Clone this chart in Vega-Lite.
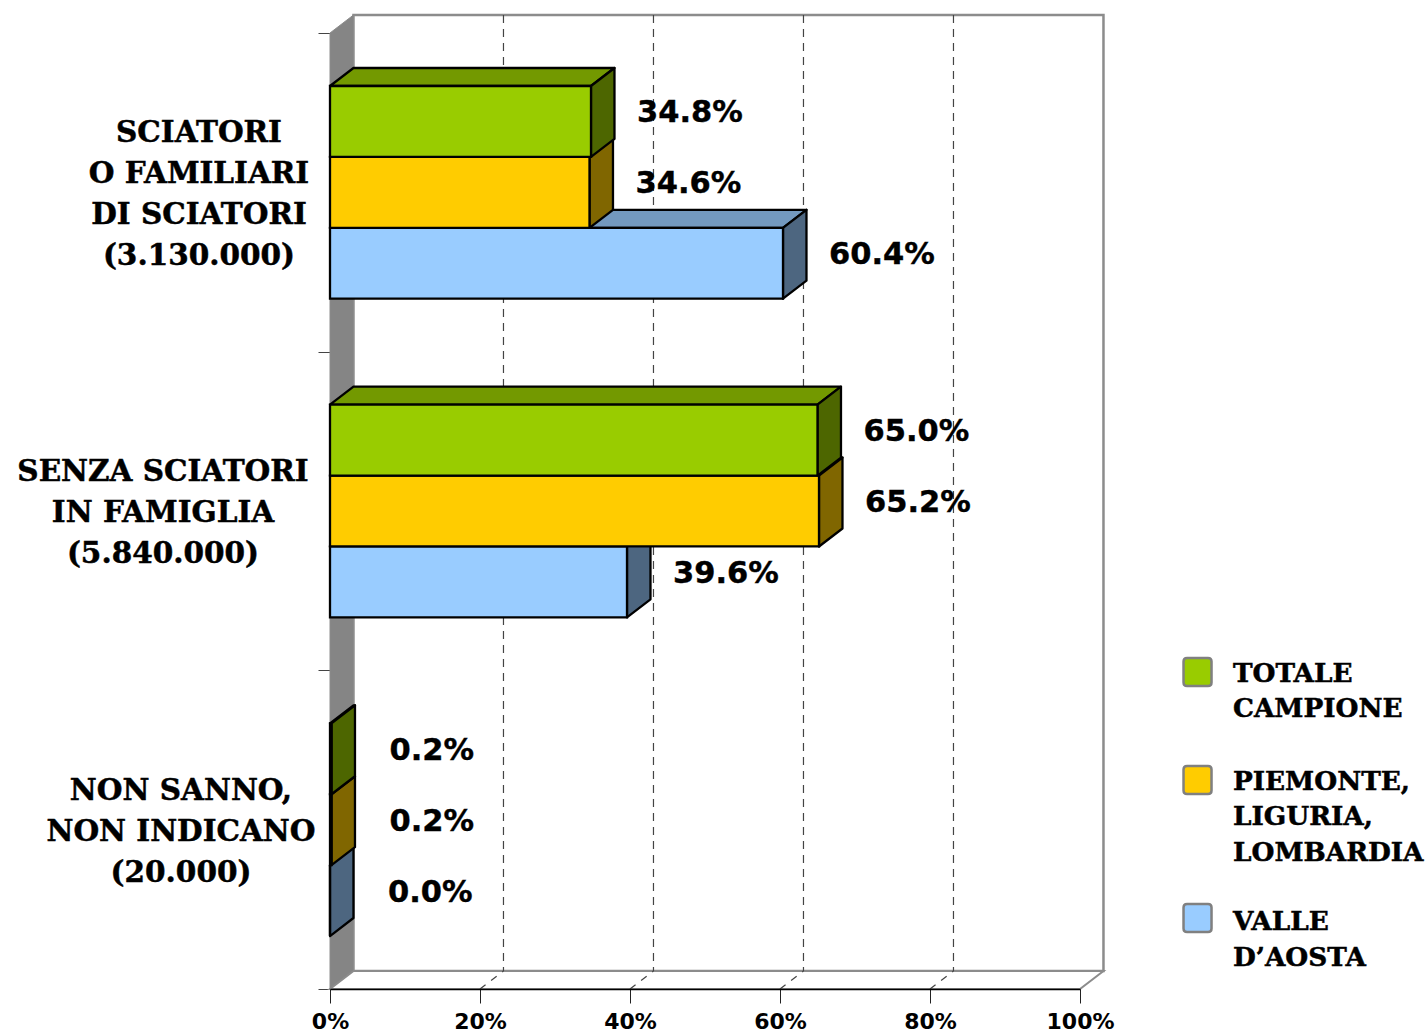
{
"$schema":"https://vega.github.io/schema/vega-lite/v6.json",
"width":750,"height":956,
"autosize":{"type":"none"},
"padding":{"left":330,"top":33,"right":346,"bottom":44},
"background":"white",
"config":{"view":{"stroke":null}},
"data":{"values":[
{"group":"SCIATORI\nO FAMILIARI\nDI SCIATORI\n(3.130.000)","series":"VALLE\nD’AOSTA","value":60.4},
{"group":"SCIATORI\nO FAMILIARI\nDI SCIATORI\n(3.130.000)","series":"PIEMONTE,\nLIGURIA,\nLOMBARDIA","value":34.6},
{"group":"SCIATORI\nO FAMILIARI\nDI SCIATORI\n(3.130.000)","series":"TOTALE\nCAMPIONE","value":34.8},
{"group":"SENZA SCIATORI\nIN FAMIGLIA\n(5.840.000)","series":"VALLE\nD’AOSTA","value":39.6},
{"group":"SENZA SCIATORI\nIN FAMIGLIA\n(5.840.000)","series":"PIEMONTE,\nLIGURIA,\nLOMBARDIA","value":65.2},
{"group":"SENZA SCIATORI\nIN FAMIGLIA\n(5.840.000)","series":"TOTALE\nCAMPIONE","value":65.0},
{"group":"NON SANNO,\nNON INDICANO\n(20.000)","series":"VALLE\nD’AOSTA","value":0.0},
{"group":"NON SANNO,\nNON INDICANO\n(20.000)","series":"PIEMONTE,\nLIGURIA,\nLOMBARDIA","value":0.2},
{"group":"NON SANNO,\nNON INDICANO\n(20.000)","series":"TOTALE\nCAMPIONE","value":0.2}
]},
"transform":[
{"calculate":"test(/^SCIATORI/,datum.group)?0:test(/^SENZA/,datum.group)?1:2","as":"g"},
{"calculate":"test(/^TOTALE/,datum.series)?0:test(/^PIEMONTE/,datum.series)?1:2","as":"s"},
{"calculate":"datum.g+0.1663+datum.s*0.2225","as":"yt"},
{"calculate":"datum.yt+0.2225","as":"yb"},
{"calculate":"datum.g+'-'+datum.s","as":"bar"},
{"calculate":"format(datum.value,'.1f')+'%'","as":"label"}
],
"layer":[
{"data":{"values":[{"k":0}]},
 "mark":{"type":"rect","fill":"white","stroke":"#8c8c8c","strokeWidth":2.5},
 "encoding":{
  "x":{"datum":3.13,"type":"quantitative","scale":{"domain":[0,100]},
   "axis":{"values":[0,20,40,60,80,100],"labelExpr":"datum.value+'%'","title":null,"orient":"bottom","zindex":1,"domainColor":"black","domainWidth":1.5,"tickColor":"#222222","tickWidth":1,"tickSize":14,"labelFont":"DejaVu Sans","labelFontWeight":"bold","labelFontSize":22,"labelColor":"black","labelPadding":8,"labelOverlap":false,"labelFlush":false,"grid":false}},
  "x2":{"datum":103.13},
  "y":{"datum":-0.0565,"type":"quantitative","scale":{"domain":[3,0]},
   "axis":{"values":[0,1,2,3],"labels":false,"title":null,"orient":"left","domain":false,"tickColor":"#444444","tickWidth":1,"tickSize":12,"grid":false}},
  "y2":{"datum":2.9435}}},
{"data":{"values":[{"k":0},{"k":1}]},
 "transform":[{"calculate":"datum.k*3.13","as":"xa"},{"calculate":"datum.k*(-0.0565)","as":"ya"},{"calculate":"3-datum.k*0.0565","as":"yb2"}],
 "mark":{"type":"area","orient":"vertical","fill":"#858585","stroke":"#8c8c8c","strokeWidth":1},
 "encoding":{
  "x":{"field":"xa","type":"quantitative","scale":{"domain":[0,100]}},
  "y":{"field":"ya","type":"quantitative","scale":{"domain":[3,0]}},
  "y2":{"field":"yb2"}}},
{"data":{"values":[{"k":0},{"k":1}]},
 "transform":[{"calculate":"datum.k*3.13","as":"xa"},{"calculate":"100+datum.k*3.13","as":"xb"},{"calculate":"3-datum.k*0.0565","as":"ya"}],
 "mark":{"type":"area","orient":"horizontal","fill":"white","stroke":"#8c8c8c","strokeWidth":2},
 "encoding":{
  "x":{"field":"xa","type":"quantitative","scale":{"domain":[0,100]}},
  "x2":{"field":"xb"},
  "y":{"field":"ya","type":"quantitative","scale":{"domain":[3,0]}}}},
{"data":{"values":[{"t":20},{"t":40},{"t":60},{"t":80}]},
 "transform":[{"calculate":"datum.t+3.13","as":"xg"}],
 "mark":{"type":"rule","stroke":"#444444","strokeWidth":1.2,"strokeDash":[8,6]},
 "encoding":{
  "x":{"field":"xg","type":"quantitative","scale":{"domain":[0,100]}},
  "y":{"datum":-0.0565,"type":"quantitative","scale":{"domain":[3,0]}},
  "y2":{"datum":2.9435}}},
{"data":{"values":[{"t":20},{"t":40},{"t":60},{"t":80}]},
 "transform":[{"calculate":"datum.t+3.13","as":"xg"}],
 "mark":{"type":"rule","stroke":"#444444","strokeWidth":1.2,"strokeDash":[7,7]},
 "encoding":{
  "x":{"field":"t","type":"quantitative","scale":{"domain":[0,100]}},
  "x2":{"field":"xg"},
  "y":{"datum":3,"type":"quantitative","scale":{"domain":[3,0]}},
  "y2":{"datum":2.9435}}},
{"transform":[{"calculate":"[0,1]","as":"k"},{"flatten":["k"]},{"calculate":"datum.value+datum.k*3.13","as":"xa"},{"calculate":"datum.k*3.13","as":"xb"},{"calculate":"datum.yt-datum.k*0.0565","as":"ya"}],
 "mark":{"type":"area","orient":"horizontal","stroke":"black","strokeWidth":2.3,"strokeJoin":"round","fillOpacity":1},
 "encoding":{
  "x":{"field":"xa","type":"quantitative","scale":{"domain":[0,100]}},
  "x2":{"field":"xb"},
  "y":{"field":"ya","type":"quantitative","scale":{"domain":[3,0]}},
  "detail":{"field":"bar"},
  "fill":{"field":"series","type":"nominal","legend":null,"scale":{"domain":["TOTALE\nCAMPIONE","PIEMONTE,\nLIGURIA,\nLOMBARDIA","VALLE\nD’AOSTA"],"range":["#739900","#BF9900","#7399BF"]}}}},
{"transform":[{"calculate":"[0,1]","as":"k"},{"flatten":["k"]},{"calculate":"datum.value+datum.k*3.13","as":"xa"},{"calculate":"datum.yt-datum.k*0.0565","as":"ya"},{"calculate":"datum.yb-datum.k*0.0565","as":"yc"}],
 "mark":{"type":"area","orient":"vertical","stroke":"black","strokeWidth":2.3,"strokeJoin":"round","fillOpacity":1},
 "encoding":{
  "x":{"field":"xa","type":"quantitative","scale":{"domain":[0,100]}},
  "y":{"field":"ya","type":"quantitative","scale":{"domain":[3,0]}},
  "y2":{"field":"yc"},
  "detail":{"field":"bar"},
  "fill":{"field":"series","type":"nominal","legend":null,"scale":{"domain":["TOTALE\nCAMPIONE","PIEMONTE,\nLIGURIA,\nLOMBARDIA","VALLE\nD’AOSTA"],"range":["#4D6600","#806600","#4D6680"]}}}},
{"mark":{"type":"rect","stroke":"black","strokeWidth":2.3,"fillOpacity":1},
 "encoding":{
  "x":{"field":"value","type":"quantitative","scale":{"domain":[0,100]},"stack":null},
  "x2":{"datum":0},
  "y":{"field":"yt","type":"quantitative","scale":{"domain":[3,0]}},
  "y2":{"field":"yb"},
  "fill":{"field":"series","type":"nominal","legend":null,"scale":{"domain":["TOTALE\nCAMPIONE","PIEMONTE,\nLIGURIA,\nLOMBARDIA","VALLE\nD’AOSTA"],"range":["#99CC00","#FFCC00","#99CCFF"]}}}},
{"transform":[{"filter":"datum.value>=1"},{"calculate":"(datum.yt+datum.yb)/2","as":"ym"}],
 "mark":{"type":"text","align":"left","baseline":"middle","dx":46,"dy":-8,"font":"DejaVu Sans","fontWeight":"bold","fontSize":30.5,"fill":"black","stroke":"black","strokeWidth":0.4},
 "encoding":{
  "x":{"field":"value","type":"quantitative","scale":{"domain":[0,100]}},
  "y":{"field":"ym","type":"quantitative","scale":{"domain":[3,0]}},
  "text":{"field":"label","type":"nominal"}}},
{"transform":[{"filter":"datum.value<1"},{"calculate":"(datum.yt+datum.yb)/2","as":"ym"}],
 "mark":{"type":"text","align":"left","baseline":"middle","dx":58,"dy":-8,"font":"DejaVu Sans","fontWeight":"bold","fontSize":30.5,"fill":"black","stroke":"black","strokeWidth":0.4},
 "encoding":{
  "x":{"field":"value","type":"quantitative","scale":{"domain":[0,100]}},
  "y":{"field":"ym","type":"quantitative","scale":{"domain":[3,0]}},
  "text":{"field":"label","type":"nominal"}}},
{"transform":[{"filter":"datum.s==0"},{"calculate":"[-17.47,-22.27,-19.87][datum.g]","as":"xc"},{"calculate":"datum.g+0.5-[61.5,41,41][datum.g]/318.67","as":"yc"}],
 "mark":{"type":"text","align":"center","baseline":"middle","dy":2,"lineBreak":"\n","lineHeight":41,"font":"DejaVu Serif","fontWeight":"bold","fontSize":29.5,"fill":"black","stroke":"black","strokeWidth":0.5},
 "encoding":{
  "x":{"field":"xc","type":"quantitative","scale":{"domain":[0,100]}},
  "y":{"field":"yc","type":"quantitative","scale":{"domain":[3,0]}},
  "text":{"field":"group","type":"nominal"}}},
{"transform":[{"filter":"datum.g==0"},{"calculate":"115.67","as":"xl"},{"calculate":"[2.005,2.344,2.777][datum.s]","as":"yl"}],
 "mark":{"type":"point","filled":true,"size":784,"shape":"M-0.75,-1H0.75Q1,-1,1,-0.75V0.75Q1,1,0.75,1H-0.75Q-1,1,-1,0.75V-0.75Q-1,-1,-0.75,-1Z","stroke":"#808080","strokeWidth":2.5,"opacity":1},
 "encoding":{
  "x":{"field":"xl","type":"quantitative","scale":{"domain":[0,100]}},
  "y":{"field":"yl","type":"quantitative","scale":{"domain":[3,0]}},
  "fill":{"field":"series","type":"nominal","legend":null,"scale":{"domain":["TOTALE\nCAMPIONE","PIEMONTE,\nLIGURIA,\nLOMBARDIA","VALLE\nD’AOSTA"],"range":["#99CC00","#FFCC00","#99CCFF"]}}}},
{"transform":[{"filter":"datum.g==0"},{"calculate":"120.4","as":"xl"},{"calculate":"[2.005,2.344,2.7835][datum.s]","as":"yl"}],
 "mark":{"type":"text","align":"left","baseline":"top","dy":-11,"lineBreak":"\n","lineHeight":35.5,"font":"DejaVu Serif","fontWeight":"bold","fontSize":26.3,"fill":"black","stroke":"black","strokeWidth":0.5},
 "encoding":{
  "x":{"field":"xl","type":"quantitative","scale":{"domain":[0,100]}},
  "y":{"field":"yl","type":"quantitative","scale":{"domain":[3,0]}},
  "text":{"field":"series","type":"nominal"}}}
],
"resolve":{"scale":{"fill":"independent"}}
}
